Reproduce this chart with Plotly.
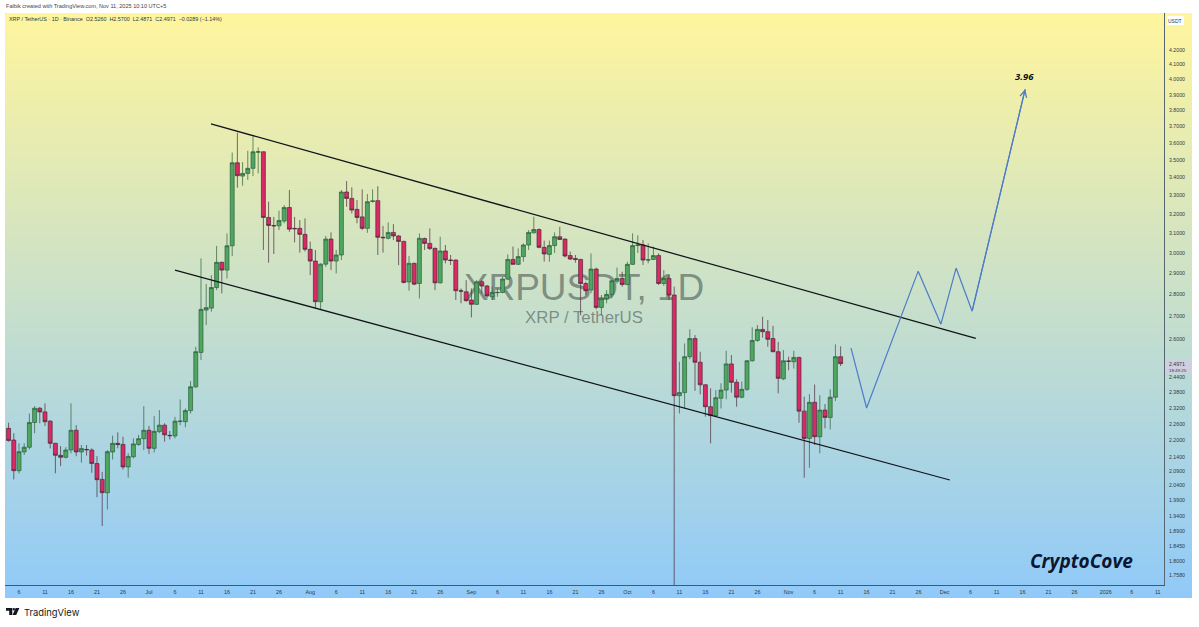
import math
import pandas as pd
import plotly.graph_objects as go

W, H = 1199, 627

dates = pd.date_range("2025-06-04", "2025-11-11", freq="D")

opens = [
    2.243, 2.200, 2.091, 2.157, 2.174, 2.265, 2.319, 2.305, 2.270, 2.188, 2.145, 2.138, 2.164, 2.236, 2.157, 2.166, 2.164, 2.116, 2.061, 2.016, 2.157, 2.188, 2.184, 2.104, 2.140, 2.184, 2.205,
    2.236, 2.170, 2.231, 2.255, 2.217, 2.215, 2.269, 2.268, 2.310, 2.403, 2.544, 2.729, 2.738, 2.833, 2.954, 2.916, 3.036, 3.484, 3.408, 3.423, 3.452, 3.546, 3.548, 3.182, 3.140, 3.138, 3.163, 3.235, 3.125, 3.125, 3.094,
    3.018, 2.960, 2.767, 2.945, 3.070, 2.960, 2.990, 3.319, 3.284, 3.225, 3.185, 3.125, 3.268, 3.272, 3.079, 3.074, 3.104, 3.086, 3.058, 2.859, 2.949, 2.852, 3.073, 3.048, 3.023, 2.855, 3.010, 2.965, 2.965, 2.818, 2.813,
    2.775, 2.755, 2.860, 2.840, 2.790, 2.809, 2.810, 2.873, 2.968, 2.944, 2.982, 3.040, 3.102, 3.119, 3.028, 2.993, 3.037, 3.082, 3.070, 2.987, 2.973, 2.968, 2.852, 2.821, 2.921, 2.741, 2.781, 2.801, 2.863, 2.876,
    2.847, 2.944, 3.038, 3.040, 2.965, 2.968, 2.987, 2.852, 2.876, 2.798, 2.368, 2.380, 2.526, 2.603, 2.503, 2.411, 2.325, 2.291, 2.358, 2.390, 2.496, 2.421, 2.362, 2.393, 2.509, 2.595, 2.643, 2.633, 2.603, 2.547, 2.435,
    2.508, 2.505, 2.523, 2.308, 2.206, 2.342, 2.212, 2.312, 2.284, 2.362, 2.5260,
]
highs = [
    2.264, 2.225, 2.188, 2.188, 2.299, 2.327, 2.324, 2.338, 2.274, 2.190, 2.178, 2.174, 2.338, 2.255, 2.182, 2.182, 2.170, 2.142, 2.087, 2.164, 2.216, 2.228, 2.212, 2.152, 2.206, 2.219, 2.327,
    2.252, 2.289, 2.312, 2.262, 2.233, 2.286, 2.353, 2.318, 2.426, 2.568, 2.973, 2.849, 2.892, 3.035, 2.957, 3.099, 3.544, 3.662, 3.488, 3.554, 3.638, 3.574, 3.550, 3.266, 3.185, 3.218, 3.248, 3.330, 3.185, 3.168, 3.177,
    3.057, 3.015, 2.949, 3.086, 3.104, 3.015, 3.330, 3.380, 3.345, 3.275, 3.334, 3.308, 3.334, 3.351, 3.138, 3.156, 3.147, 3.091, 3.062, 2.985, 2.952, 3.099, 3.077, 3.125, 3.027, 3.082, 3.040, 2.990, 2.968, 2.829, 2.868,
    2.829, 2.868, 2.868, 2.845, 2.837, 2.829, 2.884, 2.993, 3.032, 3.023, 3.048, 3.116, 3.186, 3.125, 3.062, 3.062, 3.104, 3.133, 3.073, 3.007, 2.990, 2.971, 2.860, 2.998, 2.928, 2.798, 2.821, 2.868, 2.928, 2.908,
    2.957, 3.099, 3.090, 3.065, 3.048, 3.032, 2.998, 2.916, 2.892, 2.837, 2.505, 2.582, 2.643, 2.618, 2.547, 2.413, 2.397, 2.390, 2.417, 2.551, 2.533, 2.433, 2.424, 2.512, 2.652, 2.662, 2.699, 2.684, 2.659, 2.589, 2.554,
    2.526, 2.551, 2.526, 2.364, 2.374, 2.412, 2.370, 2.335, 2.393, 2.578, 2.5700,
]
lows = [
    2.194, 2.061, 2.082, 2.146, 2.166, 2.225, 2.262, 2.252, 2.170, 2.082, 2.107, 2.134, 2.152, 2.142, 2.119, 2.144, 2.084, 2.001, 1.908, 1.961, 2.130, 2.170, 2.095, 2.067, 2.134, 2.179, 2.164,
    2.150, 2.155, 2.225, 2.194, 2.202, 2.206, 2.255, 2.247, 2.299, 2.398, 2.512, 2.662, 2.722, 2.821, 2.806, 2.876, 2.985, 3.343, 3.354, 3.386, 3.408, 3.423, 3.015, 2.952, 2.995, 3.116, 3.151, 3.107, 3.053, 3.002, 3.007,
    2.892, 2.737, 2.732, 2.932, 2.916, 2.900, 2.965, 3.239, 3.203, 3.151, 3.116, 3.102, 3.261, 2.990, 3.002, 3.068, 3.065, 2.940, 2.852, 2.818, 2.844, 2.782, 3.015, 3.015, 2.821, 2.852, 2.949, 2.941, 2.775, 2.760, 2.767,
    2.696, 2.752, 2.806, 2.783, 2.775, 2.790, 2.806, 2.868, 2.941, 2.941, 2.957, 3.015, 3.099, 3.023, 2.957, 2.957, 3.000, 3.065, 2.978, 2.965, 2.952, 2.706, 2.798, 2.806, 2.732, 2.706, 2.760, 2.783, 2.852, 2.837,
    2.845, 2.941, 3.000, 2.941, 2.949, 2.965, 2.845, 2.841, 2.775, 1.25, 2.299, 2.318, 2.515, 2.387, 2.373, 2.287, 2.188, 2.287, 2.318, 2.354, 2.380, 2.325, 2.358, 2.387, 2.505, 2.589, 2.607, 2.568, 2.545, 2.377, 2.430,
    2.470, 2.477, 2.264, 2.067, 2.101, 2.182, 2.152, 2.243, 2.239, 2.347, 2.4871,
]
closes = [
    2.198, 2.091, 2.158, 2.174, 2.265, 2.319, 2.305, 2.268, 2.188, 2.145, 2.138, 2.164, 2.236, 2.157, 2.169, 2.165, 2.116, 2.060, 2.016, 2.158, 2.188, 2.184, 2.104, 2.141, 2.186, 2.205, 2.236,
    2.170, 2.232, 2.255, 2.219, 2.216, 2.270, 2.270, 2.310, 2.403, 2.547, 2.732, 2.740, 2.833, 2.954, 2.916, 3.036, 3.484, 3.410, 3.423, 3.452, 3.548, 3.548, 3.182, 3.140, 3.138, 3.166, 3.235, 3.121, 3.123, 3.094, 3.018,
    2.960, 2.767, 2.945, 3.070, 2.960, 2.990, 3.319, 3.284, 3.221, 3.182, 3.125, 3.266, 3.270, 3.079, 3.077, 3.104, 3.086, 3.058, 2.857, 2.949, 2.849, 3.074, 3.048, 3.022, 2.855, 3.010, 2.965, 2.963, 2.818, 2.816, 2.772,
    2.755, 2.860, 2.840, 2.794, 2.810, 2.810, 2.873, 2.968, 2.944, 2.982, 3.040, 3.104, 3.119, 3.028, 2.995, 3.037, 3.082, 3.068, 2.985, 2.970, 2.968, 2.852, 2.818, 2.921, 2.741, 2.781, 2.801, 2.865, 2.876, 2.847,
    2.944, 3.037, 3.040, 2.965, 2.966, 2.987, 2.852, 2.876, 2.798, 2.368, 2.380, 2.526, 2.603, 2.503, 2.411, 2.325, 2.291, 2.360, 2.390, 2.496, 2.421, 2.362, 2.393, 2.509, 2.595, 2.643, 2.633, 2.600, 2.547, 2.437, 2.509,
    2.507, 2.523, 2.308, 2.206, 2.342, 2.212, 2.312, 2.284, 2.362, 2.526, 2.4971,
]

# channel lines and the projected path drawn on the chart
upper_dates = ["2025-07-12 22:00", "2025-12-07"]
upper_prices = [3.716, 2.604]
lower_dates = ["2025-07-06", "2025-12-02"]
lower_prices = [2.916, 2.059]
path_dates = ["2025-11-13", "2025-11-16", "2025-11-25 22:00", "2025-11-30 07:00", "2025-12-03 05:00", "2025-12-06 07:00", "2025-12-16 12:00"]
path_prices = [2.562, 2.320, 2.911, 2.666, 2.926, 2.724, 3.937]

price_ticks = [4.2, 4.1, 4.0, 3.9, 3.8, 3.7, 3.6, 3.5, 3.4, 3.3, 3.2, 3.1, 3.0, 2.9, 2.8, 2.7, 2.6,
               2.44, 2.38, 2.32, 2.26, 2.2, 2.14, 2.09, 2.04, 1.99, 1.94, 1.89, 1.845, 1.8, 1.758]
price_labels = ["%.4f" % p for p in price_ticks]

month_starts = [("2025-07", "Jul"), ("2025-08", "Aug"), ("2025-09", "Sep"), ("2025-10", "Oct"), ("2025-11", "Nov"), ("2025-12", "Dec"), ("2026-01", "2026")]
time_ticks = ["2025-06-%02d" % d for d in (6, 11, 16, 21, 26)]
time_labels = ["6", "11", "16", "21", "26"]
for month, name in month_starts:
    time_ticks.append(month + "-01")
    time_labels.append(name)
    days = (6, 11) if month == "2026-01" else (6, 11, 16, 21, 26)
    for d in days:
        time_ticks.append("%s-%02d" % (month, d))
        time_labels.append(str(d))

GREEN = "#4FA660"
RED = "#DB2A63"
TEXT = "#2b3a44"
FONT = "Liberation Sans"


def fx(px):
    return px / W


def fy(px):
    return 1 - px / H


def label(x, y, text, size, color=TEXT, anchor="left", family=FONT, bg=None):
    return dict(xref="paper", yref="paper", x=fx(x), y=fy(y), text=text, showarrow=False,
                xanchor=anchor, yanchor="middle", bgcolor=bg, borderpad=0,
                font=dict(size=size, color=color, family=family))


def box(x0, y0, x1, y1, color):
    return dict(type="rect", xref="paper", yref="paper", x0=fx(x0), y0=fy(y0), x1=fx(x1), y1=fy(y1),
                fillcolor=color, line_width=0, layer="above")


def poly(points, color="#131722"):
    p = "M " + " L ".join("%.5f,%.5f" % (fx(a), fy(b)) for a, b in points) + " Z"
    return dict(type="path", xref="paper", yref="paper", path=p, fillcolor=color, line_width=0, layer="above")


fig = go.Figure()

# gradient backdrop and watermark live on their own axes, under the candles
fig.add_trace(go.Heatmap(z=[[0, 0], [1, 1]], x=[0, 1], y=[0, 1], xaxis="x", yaxis="y", zsmooth="best",
                         showscale=False, hoverinfo="skip",
                         colorscale=[[0, "#90CAF9"], [1, "#FFF59D"]]))
fig.add_trace(go.Scatter(x=[0.4878, 0.4878], y=[0.5248, 0.4775], mode="text", xaxis="x", yaxis="y",
                         text=["XRPUSDT, 1D", "XRP / TetherUS"],
                         textfont=dict(size=[37, 16.8], family=FONT, color="rgba(60,72,72,0.55)"),
                         hoverinfo="skip", showlegend=False))

fig.add_trace(go.Candlestick(x=dates, open=opens, high=highs, low=lows, close=closes, xaxis="x2", yaxis="y2",
                             increasing=dict(fillcolor=GREEN, line=dict(color="#2c5f3c", width=0.7)),
                             decreasing=dict(fillcolor=RED, line=dict(color="#4a2a3a", width=0.7)),
                             whiskerwidth=0, showlegend=False))

for xs, ys in [(upper_dates, upper_prices), (lower_dates, lower_prices)]:
    fig.add_trace(go.Scatter(x=xs, y=ys, mode="lines", xaxis="x2", yaxis="y2", showlegend=False,
                             line=dict(color="#10141a", width=1.25)))
fig.add_trace(go.Scatter(x=path_dates, y=path_prices, mode="lines", xaxis="x2", yaxis="y2", showlegend=False,
                         line=dict(color="#4f7bc9", width=1.2)))

annotations = [
    label(5, 6.5, "Falbik created with TradingView.com, Nov 11, 2025 10:10 UTC+5", 5.55, "#444"),
    label(8, 19.5, "XRP / TetherUS · 1D · Binance &nbsp;O2.5260 &nbsp;H2.5700 &nbsp;L2.4871 &nbsp;C2.4971 &nbsp;−0.0289 (−1.14%)", 5.4),
    label(1175, 20.5, "USDT", 5, anchor="center"),
    label(1168, 364, "2.4971", 5.2),
    label(1168, 370.5, "18:49:25", 4.4),
    label(23, 612, "TradingView", 9.4, "#131722", family="Inter"),
    label(1081, 561, "<b><i>CryptoCove</i></b>", 19, "#0b1730", anchor="center", family="Open Sans"),
    label(1024, 77, "<b><i>3.96</i></b>", 9.5, "#0b1018", anchor="center", family="Open Sans"),
    # arrow head at the end of the projected path
    dict(xref="x2", yref="y2", axref="x2", ayref="y2", x=path_dates[-1], y=math.log10(path_prices[-1]),
         ax=path_dates[-2], ay=math.log10(path_prices[-2]), text="", showarrow=True,
         arrowhead=5, arrowsize=1.1, arrowwidth=1.2, arrowcolor="#4f7bc9"),
]

shapes = [
    box(1167, 16, 1184, 25, "#ffffff"),
    box(1165, 360, 1192, 374, "#CFCFE0"),
    # TradingView logo
    poly([(6, 608), (12.3, 608), (12.3, 615), (9.2, 615), (9.2, 610.8), (6, 610.8)]),
    poly([(15.6, 608), (19.4, 608), (16.2, 615), (12.6, 615)]),
    dict(type="circle", xref="paper", yref="paper", x0=fx(12.6), y0=fy(608), x1=fx(15), y1=fy(610.4),
         fillcolor="#131722", line_width=0, layer="above"),
]

fig.update_layout(
    width=W, height=H, margin=dict(l=0, r=0, t=0, b=0),
    paper_bgcolor="white", plot_bgcolor="rgba(0,0,0,0)", showlegend=False,
    annotations=annotations, shapes=shapes, boxgap=0.2, boxgroupgap=0.05,
    xaxis=dict(domain=[fx(5), fx(1192)], range=[0, 1], visible=False, fixedrange=True),
    yaxis=dict(domain=[fy(598), fy(13)], range=[0, 1], visible=False, fixedrange=True),
    xaxis2=dict(domain=[fx(5), fx(1164)], anchor="y2", type="date",
                range=["2025-06-03 07:26", "2026-01-12 04:33"],
                tickmode="array", tickvals=time_ticks, ticktext=time_labels, tickangle=0,
                tickfont=dict(size=5.4, color=TEXT, family=FONT), ticks="", ticklabelstandoff=2,
                showgrid=False, zeroline=False, showline=True, linecolor="#2f6080", linewidth=1,
                rangeslider=dict(visible=False), fixedrange=True),
    yaxis2=dict(domain=[fy(585), fy(13)], anchor="x2", side="right", type="log",
                range=[math.log10(1.730), math.log10(4.466)],
                tickmode="array", tickvals=price_ticks, ticktext=price_labels,
                tickfont=dict(size=5.2, color=TEXT, family=FONT), ticks="", ticklabelstandoff=3,
                showgrid=False, zeroline=False, showline=True, linecolor="#55666e", linewidth=1,
                fixedrange=True),
)

fig.write_html("out.html", config={"displayModeBar": False},
               post_script="document.body.style.margin='0';document.body.style.overflow='hidden';")
